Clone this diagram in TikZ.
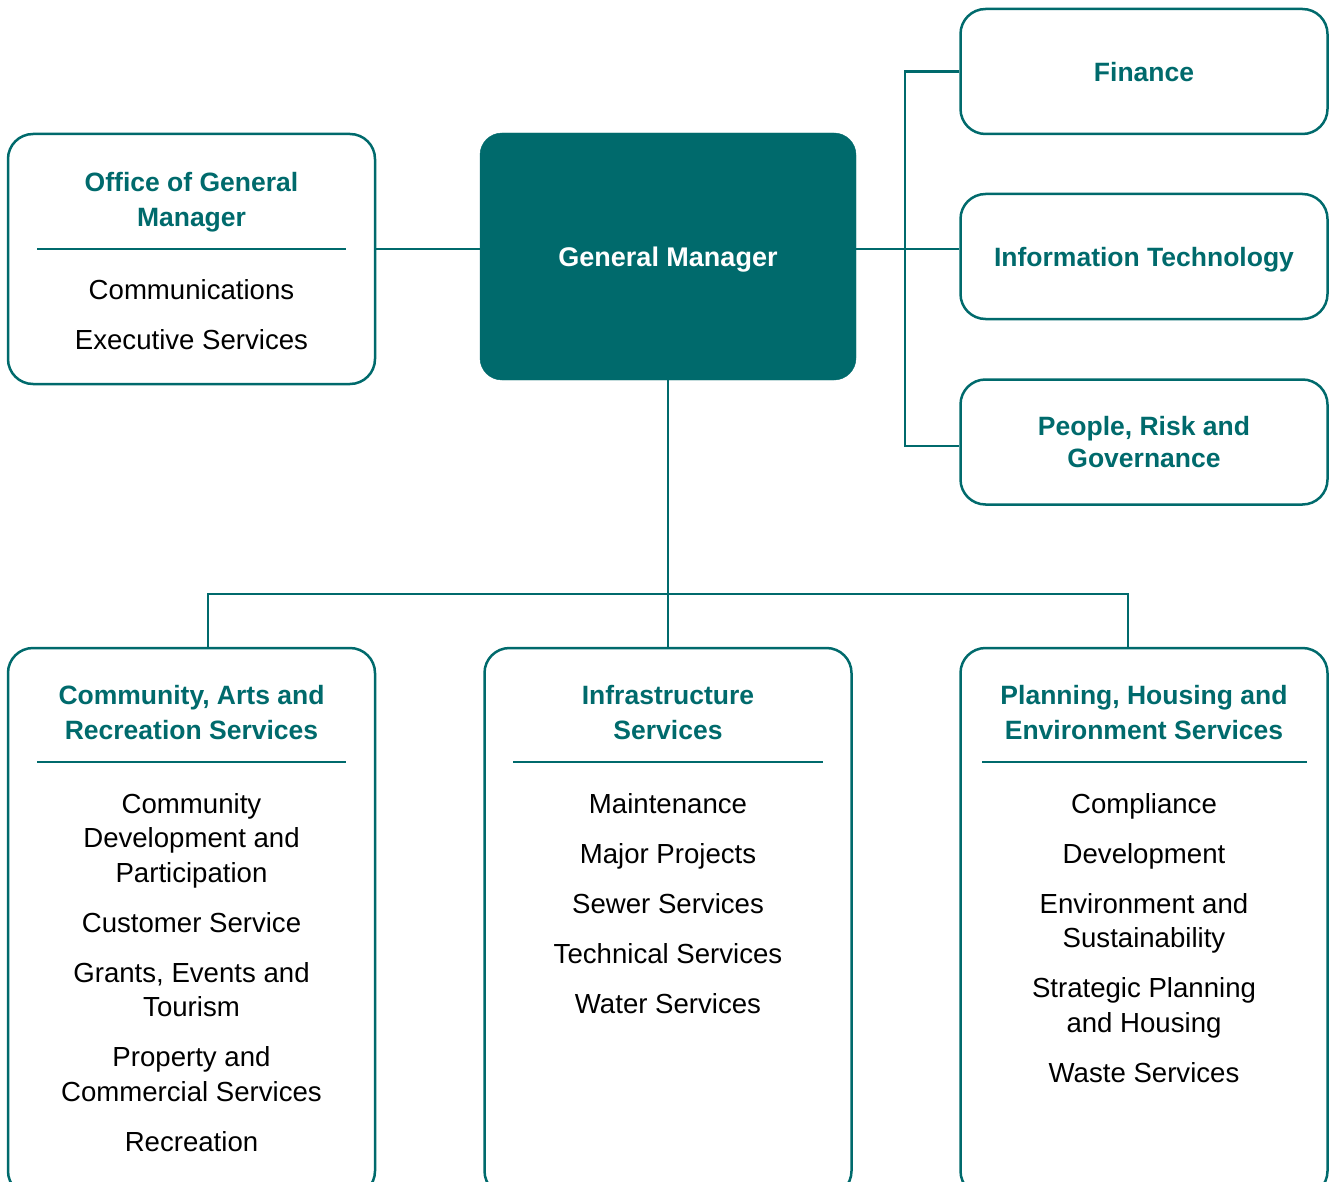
\documentclass[tikz,border=0pt]{standalone}
\usepackage{fontspec}
\setmainfont{Liberation Sans}
\usepackage{tikz}
\usetikzlibrary{positioning,calc}
\definecolor{gmteal}{RGB}{0,106,108}
\tikzstyle{unitbox} = [rectangle, draw=gmteal, line width=2.5pt, %
   rounded corners=25pt, minimum width=367pt, inner sep=0pt]
\tikzstyle{gmbox} = [rectangle, draw=gmteal, fill=gmteal, rounded corners=22pt, %
   minimum width=376pt, minimum height=247pt, text=white, text depth=0pt, %
   font=\fontsize{27}{34.5}\selectfont\bfseries]
\tikzstyle{sidebox} = [unitbox, minimum height=125pt, text=gmteal, align=center, %
   font=\fontsize{26.5}{32}\selectfont\bfseries]
\tikzstyle{unittitle} = [text=gmteal, align=center, inner sep=0pt, %
   font=\fontsize{26.5}{34.5}\selectfont\bfseries]
\tikzstyle{unititems} = [text=black, align=center, inner sep=0pt, anchor=north, %
   font=\fontsize{27.6}{34.5}\selectfont]
\tikzstyle{divider} = [draw=gmteal, line width=1.2pt]
\tikzstyle{wire} = [draw=gmteal, line width=2.5pt]

\begin{document}
\begin{tikzpicture}[x=1pt, y=-1pt]
   \useasboundingbox (0,0) rectangle (1330,1182);

% General Manager %%%%%%%%%%%%%%%%%%%%%%%%%%%%%%%%%%%%%%%%%%%%%%%%%%%
   \node[gmbox] (GM) at (668,256.5) {General Manager};
   \coordinate (gmtap) at (668,249);

% Office of the GM %%%%%%%%%%%%%%%%%%%%%%%%%%%%%%%%%%%%%%%%%%%%%%%%%%
   \node[unitbox, minimum height=250pt] (OGM) at (191.5,259) {};
   \node[unittitle] (OGMtitle) at (191.5,202) {Office of General\\Manager};
   \path[divider] (37,249) -- (346,249);
   \node[unititems] (OGMitems) at (191.5,279) {%
      Communications\\[15.5pt]Executive Services};

% Right hand side units %%%%%%%%%%%%%%%%%%%%%%%%%%%%%%%%%%%%%%%%%%%%%%
   \node[sidebox, text depth=0pt] (FIN) at (1144,71.5) {Finance};
   \node[sidebox, text depth=0pt] (IT) at (1144,256.5) {Information Technology};
   \node[sidebox] (PRG) at (1144,442) {People, Risk and\\Governance};
   \coordinate (rbus) at (905,249);

% Directorates %%%%%%%%%%%%%%%%%%%%%%%%%%%%%%%%%%%%%%%%%%%%%%%%%%%%%%%
   \node[unitbox, minimum height=548pt] (CAR) at (191.5,922) {};
   \node[unittitle] (CARtitle) at (191.5,712.5) {%
      Community, Arts and\\Recreation Services};
   \path[divider] (37,762) -- (346,762);
   \node[unititems] (CARitems) at (191.5,793) {%
      Community\\Development and\\Participation\\[15.5pt]%
      Customer Service\\[15.5pt]%
      Grants, Events and\\Tourism\\[15.5pt]%
      Property and\\Commercial Services\\[15.5pt]%
      Recreation};

   \node[unitbox, minimum height=548pt] (INF) at (668,922) {};
   \node[unittitle] (INFtitle) at (668,712.5) {Infrastructure\\Services};
   \path[divider] (513,762) -- (823,762);
   \node[unititems] (INFitems) at (668,793) {%
      Maintenance\\[15.5pt]%
      Major Projects\\[15.5pt]%
      Sewer Services\\[15.5pt]%
      Technical Services\\[15.5pt]%
      Water Services};

   \node[unitbox, minimum height=548pt] (PHE) at (1144,922) {};
   \node[unittitle] (PHEtitle) at (1144,712.5) {%
      Planning, Housing and\\Environment Services};
   \path[divider] (982,762) -- (1307,762);
   \node[unititems] (PHEitems) at (1144,793) {%
      Compliance\\[15.5pt]%
      Development\\[15.5pt]%
      Environment and\\Sustainability\\[15.5pt]%
      Strategic Planning\\and Housing\\[15.5pt]%
      Waste Services};
   \coordinate (lbus) at (668,594);

   % Draw edges
   % GM to its office and the right hand units
   \path[wire] (OGM.east |- gmtap) -- (GM.west |- gmtap);
   \path[wire] (GM.east |- gmtap) -- (IT.west |- gmtap);
   \path[wire] (FIN.west) -| (rbus) |- ([yshift=-4pt]PRG.west);

   % GM down to the directorates
   \path[wire] (GM.south) -- (INF.north);
   \path[wire] ([xshift=16.5pt]CAR.north) |- (lbus) -| ([xshift=-16pt]PHE.north);
\end{tikzpicture}
\end{document}
